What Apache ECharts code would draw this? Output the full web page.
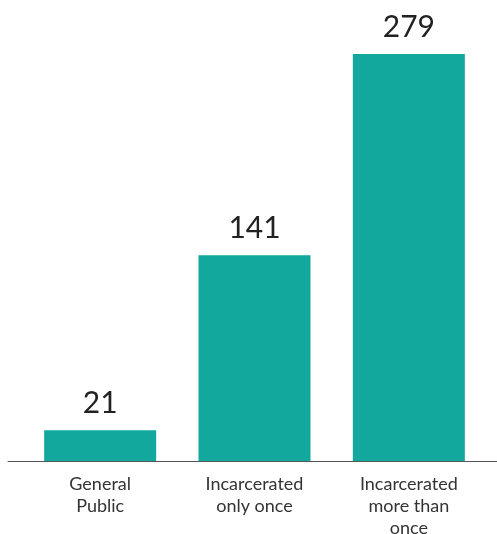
<!DOCTYPE html>
<html><head><meta charset="utf-8">
<script src="https://cdn.jsdelivr.net/npm/echarts@6/dist/echarts.min.js"></script>
<style>html,body{margin:0;padding:0;background:#fff}#c{width:497px;height:534px}</style>
</head><body><div id="c"></div>
<script>
const categories = ['General\nPublic', 'Incarcerated\nonly once', 'Incarcerated\nmore than\nonce'];
const values = [21, 141, 279];

const chart = echarts.init(document.getElementById('c'));
chart.setOption({
  animation: false,
  grid: [
    {left: 23, right: 11, top: 23.4, bottom: 73, containLabel: false, outerBoundsMode: 'none'},
    {left: 8, right: 0, top: 23.4, bottom: 73, containLabel: false, outerBoundsMode: 'none'}
  ],
  xAxis: [
    {type: 'category', data: categories, gridIndex: 0,
     axisLine: {show: false}, axisTick: {show: false},
     axisLabel: {color: '#333', fontFamily: 'Lato', fontSize: 18, lineHeight: 22, margin: 12, interval: 0}},
    {type: 'value', gridIndex: 1, min: 0, max: 1,
     axisLine: {show: true, lineStyle: {color: '#555', width: 1}},
     axisTick: {show: false}, axisLabel: {show: false}, splitLine: {show: false}}
  ],
  yAxis: [
    {type: 'value', gridIndex: 0, min: 0, max: 300, show: false, splitLine: {show: false}},
    {type: 'value', gridIndex: 1, min: 0, max: 1, show: false, splitLine: {show: false}}
  ],
  series: [{
    type: 'bar', data: values, barWidth: 112,
    itemStyle: {color: '#12A89D'},
    label: {show: true, position: 'top', distance: 12, color: '#222', fontFamily: 'Lato', fontSize: 30}
  }]
});
</script></body></html>
